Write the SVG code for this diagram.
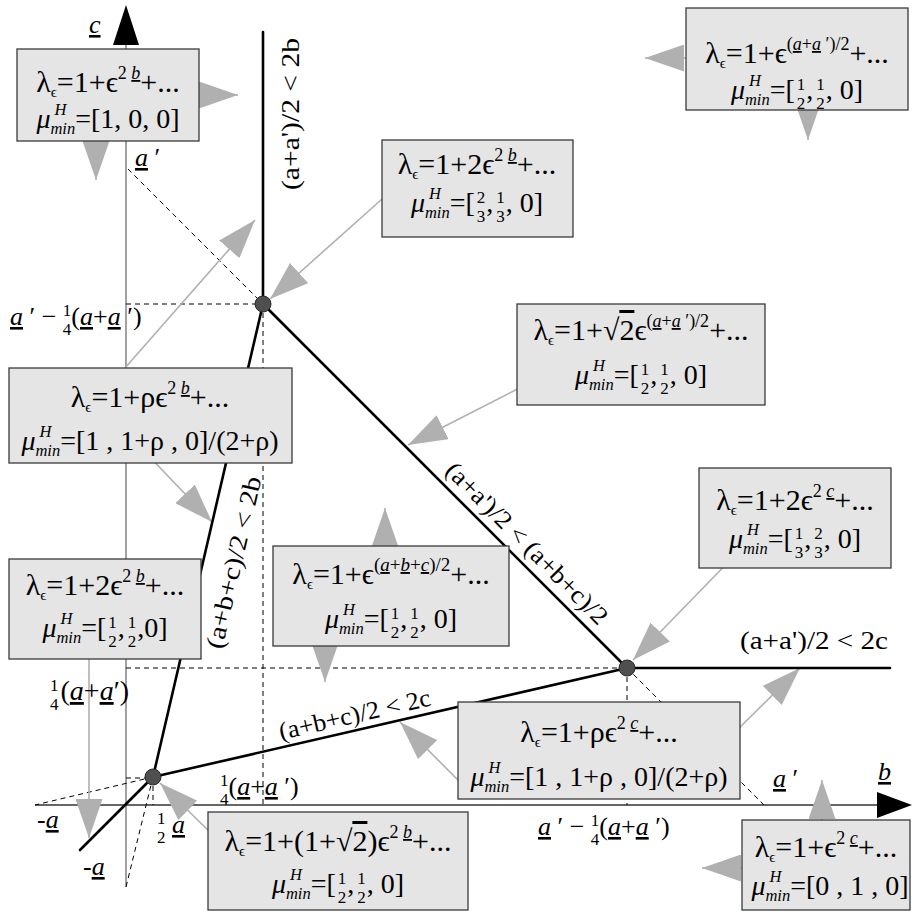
<svg xmlns="http://www.w3.org/2000/svg" width="914" height="912" viewBox="0 0 914 912">
<style>
.bx{fill:#e5e5e5;stroke:#3a3a3a;stroke-width:1.3}
.t{font-family:"Liberation Serif","Times New Roman",serif;fill:#000}
.l1{font-size:30px}
.l2{font-size:28px}
.i{font-style:italic}
.u{text-decoration:underline}
.s{font-size:18px}
.h{font-size:16.5px;font-style:italic}
.ss{font-size:15px}
.fr{font-size:17px}
.lab{font-size:26px}
.edge{font-size:25px}
.thick{stroke:#000;stroke-width:2.6;fill:none;stroke-linecap:round}
.dash{stroke:#000;stroke-width:1;stroke-dasharray:5 4;fill:none}
.gl{stroke:#b0b0b0;stroke-width:1.6;fill:none}
.ax{stroke:#7a7a7a;stroke-width:1.4}
.axb{stroke:#333;stroke-width:1.4}
.nd{fill:#4f4f4f;stroke:#2a2a2a;stroke-width:1}
</style>
<defs>
<marker id="gh" markerUnits="userSpaceOnUse" markerWidth="39" markerHeight="27" refX="39" refY="13.5" orient="auto" viewBox="0 0 39 27"><path d="M0,0L39,13.5L0,27Z" fill="#b0b0b0"/></marker>
</defs>
<g id="connectors">
<line class="ax" x1="126" y1="887" x2="126" y2="44"/>
<path d="M113,45L139,45L126,5Z" fill="#000"/>
<line class="axb" x1="35" y1="805" x2="880" y2="805"/>
<path d="M877,792L877,818L912,805Z" fill="#000"/>
<line class="dash" x1="126" y1="304" x2="263" y2="304"/>
<line class="dash" x1="128" y1="169" x2="263" y2="304"/>
<line class="dash" x1="263" y1="304" x2="263" y2="805"/>
<line class="dash" x1="126" y1="668" x2="627" y2="668"/>
<line class="dash" x1="627" y1="668" x2="627" y2="805"/>
<line class="dash" x1="627" y1="668" x2="764" y2="805"/>
<line class="dash" x1="126" y1="778" x2="153" y2="778"/>
<line class="dash" x1="153" y1="777" x2="35" y2="805"/>
<line class="dash" x1="153" y1="777" x2="153" y2="805"/>
<line class="dash" x1="153" y1="777" x2="126" y2="887"/>
<line class="gl" x1="150" y1="95" x2="238" y2="95" marker-end="url(#gh)"/>
<line class="gl" x1="96" y1="110" x2="96" y2="180" marker-end="url(#gh)"/>
<line class="gl" x1="760" y1="58" x2="645" y2="58" marker-end="url(#gh)"/>
<line class="gl" x1="808" y1="60" x2="808" y2="140" marker-end="url(#gh)"/>
<line class="gl" x1="400" y1="183" x2="270" y2="299" marker-end="url(#gh)"/>
<line class="gl" x1="110" y1="385" x2="255" y2="220" marker-end="url(#gh)"/>
<line class="gl" x1="143" y1="450" x2="212" y2="522" marker-end="url(#gh)"/>
<line class="gl" x1="535" y1="380" x2="408" y2="445" marker-end="url(#gh)"/>
<line class="gl" x1="740" y1="550" x2="633" y2="660" marker-end="url(#gh)"/>
<line class="gl" x1="385" y1="600" x2="385" y2="508" marker-end="url(#gh)"/>
<line class="gl" x1="325" y1="600" x2="325" y2="682" marker-end="url(#gh)"/>
<line class="gl" x1="89" y1="640" x2="89" y2="838" marker-end="url(#gh)"/>
<line class="gl" x1="470" y1="792" x2="400" y2="722" marker-end="url(#gh)"/>
<line class="gl" x1="730" y1="737" x2="800" y2="668" marker-end="url(#gh)"/>
<line class="gl" x1="220" y1="842" x2="160" y2="783" marker-end="url(#gh)"/>
<line class="gl" x1="822" y1="870" x2="822" y2="780" marker-end="url(#gh)"/>
<line class="gl" x1="800" y1="868" x2="702" y2="868" marker-end="url(#gh)"/>
<line class="thick" x1="263" y1="32" x2="263" y2="304"/>
<line class="thick" x1="263" y1="304" x2="627" y2="668"/>
<line class="thick" x1="627" y1="668" x2="890" y2="668"/>
<line class="thick" x1="263" y1="304" x2="153" y2="777"/>
<line class="thick" x1="153" y1="777" x2="627" y2="668"/>
<line class="thick" x1="153" y1="777" x2="80" y2="850"/>
<text class="t edge" transform="translate(299,190) rotate(-90)" textLength="152" lengthAdjust="spacingAndGlyphs">(a+a')/2 &lt; 2b</text>
<text class="t edge" transform="translate(444,472) rotate(45)" textLength="218" lengthAdjust="spacingAndGlyphs">(a+a')/2 &lt; (a+b+c)/2</text>
<text class="t edge" transform="translate(222,650) rotate(-77)" textLength="176" lengthAdjust="spacingAndGlyphs">(a+b+c)/2 &lt; 2b</text>
<text class="t edge" transform="translate(281,740) rotate(-13)" textLength="155" lengthAdjust="spacingAndGlyphs">(a+b+c)/2 &lt; 2c</text>
<text class="t edge" x="740" y="649" textLength="148" lengthAdjust="spacingAndGlyphs">(a+a')/2 &lt; 2c</text>
</g>
<g id="points">
<circle class="nd" cx="263" cy="304" r="8"/>
<circle class="nd" cx="627" cy="668" r="8"/>
<circle class="nd" cx="153" cy="777" r="8"/>
</g>
<g id="axis-labels">
<text class="t lab" x="89" y="33"><tspan class="i u">c</tspan></text>
<text class="t lab" x="878" y="780"><tspan class="i u">b</tspan></text>
<text class="t lab" x="135" y="166"><tspan class="i u">a</tspan> ′</text>
<text class="t lab" x="10" y="325"><tspan class="i u">a</tspan> ′ − <tspan class="fr" dy="-9.5">1</tspan><tspan class="fr" dx="-8.5" dy="19">4</tspan><tspan dy="-9.5">(</tspan><tspan class="i u">a</tspan>+<tspan class="i u">a</tspan> ′)</text>
<text class="t lab" x="50" y="700" style="font-size:28px"><tspan class="fr" dy="-9.5">1</tspan><tspan class="fr" dx="-8.5" dy="19">4</tspan><tspan dy="-9.5" dx="2">(</tspan><tspan class="i u">a</tspan>+<tspan class="i u">a</tspan>′)</text>
<text class="t lab" x="37" y="828">-<tspan class="i u">a</tspan></text>
<text class="t lab" x="83" y="875">-<tspan class="i u">a</tspan></text>
<text class="t lab" x="157" y="833"><tspan class="fr" dy="-9.5">1</tspan><tspan class="fr" dx="-8.5" dy="19">2</tspan><tspan dy="-9.5"> </tspan><tspan class="i u">a</tspan></text>
<text class="t lab" x="220" y="795"><tspan class="fr" dy="-9.5">1</tspan><tspan class="fr" dx="-8.5" dy="19">4</tspan><tspan dy="-9.5">(</tspan><tspan class="i u">a</tspan>+<tspan class="i u">a</tspan> ′)</text>
<text class="t lab" x="538" y="835"><tspan class="i u">a</tspan> ′ − <tspan class="fr" dy="-9.5">1</tspan><tspan class="fr" dx="-8.5" dy="19">4</tspan><tspan dy="-9.5">(</tspan><tspan class="i u">a</tspan>+<tspan class="i u">a</tspan> ′)</text>
<text class="t lab" x="773" y="787"><tspan class="i u">a</tspan> ′</text>
</g>
<g id="boxA">
<rect class="bx" x="17" y="49" width="182" height="92"/>
<text class="t l1" x="108" y="92" text-anchor="middle">λ<tspan class="ss" dy="5">ϵ</tspan><tspan dy="-5">=1+ϵ</tspan><tspan class="s" dy="-13">2 <tspan class="i u">b</tspan></tspan><tspan dy="13">+...</tspan></text>
<text class="t l2" x="108" y="128" text-anchor="middle"><tspan class="i">μ</tspan><tspan class="h" dx="4" dy="-13">H</tspan><tspan class="h" dx="-16" dy="18.5">min</tspan><tspan dy="-5.5">=[1, 0, 0]</tspan></text>
</g>
<g id="boxB">
<rect class="bx" x="686" y="8" width="222" height="102"/>
<text class="t l1" x="797" y="63" text-anchor="middle">λ<tspan class="ss" dy="5">ϵ</tspan><tspan dy="-5">=1+ϵ</tspan><tspan class="s" dy="-13">(<tspan class="i u">a</tspan>+<tspan class="i u">a</tspan> ′)/2</tspan><tspan dy="13">+...</tspan></text>
<text class="t l2" x="797" y="99" text-anchor="middle"><tspan class="i">μ</tspan><tspan class="h" dx="4" dy="-13">H</tspan><tspan class="h" dx="-16" dy="18.5">min</tspan><tspan dy="-5.5">=[</tspan><tspan class="fr" dx="2" dy="-9.5">1</tspan><tspan class="fr" dx="-8.5" dy="19">2</tspan><tspan dy="-9.5" dx="1">,</tspan><tspan class="fr" dx="3" dy="-9.5">1</tspan><tspan class="fr" dx="-8.5" dy="19">2</tspan><tspan dy="-9.5" dx="1">, 0]</tspan></text>
</g>
<g id="boxC">
<rect class="bx" x="382" y="140" width="191" height="97"/>
<text class="t l1" x="477" y="174" text-anchor="middle">λ<tspan class="ss" dy="5">ϵ</tspan><tspan dy="-5">=1+2ϵ</tspan><tspan class="s" dy="-13">2 <tspan class="i u">b</tspan></tspan><tspan dy="13">+...</tspan></text>
<text class="t l2" x="477" y="212" text-anchor="middle"><tspan class="i">μ</tspan><tspan class="h" dx="4" dy="-13">H</tspan><tspan class="h" dx="-16" dy="18.5">min</tspan><tspan dy="-5.5">=[</tspan><tspan class="fr" dx="2" dy="-9.5">2</tspan><tspan class="fr" dx="-8.5" dy="19">3</tspan><tspan dy="-9.5" dx="1">,</tspan><tspan class="fr" dx="3" dy="-9.5">1</tspan><tspan class="fr" dx="-8.5" dy="19">3</tspan><tspan dy="-9.5" dx="1">, 0]</tspan></text>
</g>
<g id="boxD">
<rect class="bx" x="9" y="368" width="283" height="95"/>
<text class="t l1" x="150" y="407" text-anchor="middle">λ<tspan class="ss" dy="5">ϵ</tspan><tspan dy="-5">=1+ρϵ</tspan><tspan class="s" dy="-13">2 <tspan class="i u">b</tspan></tspan><tspan dy="13">+...</tspan></text>
<text class="t l2" x="150" y="450" text-anchor="middle"><tspan class="i">μ</tspan><tspan class="h" dx="4" dy="-13">H</tspan><tspan class="h" dx="-16" dy="18.5">min</tspan><tspan dy="-5.5">=[1 , 1+ρ , 0]/(2+ρ)</tspan></text>
</g>
<g id="boxE">
<rect class="bx" x="517" y="304" width="248" height="101"/>
<text class="t l1" x="641" y="340" text-anchor="middle">λ<tspan class="ss" dy="5">ϵ</tspan><tspan dy="-5">=1+√</tspan><tspan style="text-decoration:overline">2</tspan>ϵ<tspan class="s" dy="-13">(<tspan class="i u">a</tspan>+<tspan class="i u">a</tspan> ′)/2</tspan><tspan dy="13">+...</tspan></text>
<text class="t l2" x="641" y="384" text-anchor="middle"><tspan class="i">μ</tspan><tspan class="h" dx="4" dy="-13">H</tspan><tspan class="h" dx="-16" dy="18.5">min</tspan><tspan dy="-5.5">=[</tspan><tspan class="fr" dx="2" dy="-9.5">1</tspan><tspan class="fr" dx="-8.5" dy="19">2</tspan><tspan dy="-9.5" dx="1">,</tspan><tspan class="fr" dx="3" dy="-9.5">1</tspan><tspan class="fr" dx="-8.5" dy="19">2</tspan><tspan dy="-9.5" dx="1">, 0]</tspan></text>
</g>
<g id="boxF">
<rect class="bx" x="699" y="468" width="192" height="100"/>
<text class="t l1" x="795" y="510" text-anchor="middle">λ<tspan class="ss" dy="5">ϵ</tspan><tspan dy="-5">=1+2ϵ</tspan><tspan class="s" dy="-13">2 <tspan class="i u">c</tspan></tspan><tspan dy="13">+...</tspan></text>
<text class="t l2" x="795" y="548" text-anchor="middle"><tspan class="i">μ</tspan><tspan class="h" dx="4" dy="-13">H</tspan><tspan class="h" dx="-16" dy="18.5">min</tspan><tspan dy="-5.5">=[</tspan><tspan class="fr" dx="2" dy="-9.5">1</tspan><tspan class="fr" dx="-8.5" dy="19">3</tspan><tspan dy="-9.5" dx="1">,</tspan><tspan class="fr" dx="3" dy="-9.5">2</tspan><tspan class="fr" dx="-8.5" dy="19">3</tspan><tspan dy="-9.5" dx="1">, 0]</tspan></text>
</g>
<g id="boxG">
<rect class="bx" x="273" y="546" width="236" height="100"/>
<text class="t l1" x="391" y="584" text-anchor="middle">λ<tspan class="ss" dy="5">ϵ</tspan><tspan dy="-5">=1+ϵ</tspan><tspan class="s" dy="-13" style="font-size:19px">(<tspan class="i u">a</tspan>+<tspan class="i u">b</tspan>+<tspan class="i u">c</tspan>)/2</tspan><tspan dy="13">+...</tspan></text>
<text class="t l2" x="391" y="628" text-anchor="middle"><tspan class="i">μ</tspan><tspan class="h" dx="4" dy="-13">H</tspan><tspan class="h" dx="-16" dy="18.5">min</tspan><tspan dy="-5.5">=[</tspan><tspan class="fr" dx="2" dy="-9.5">1</tspan><tspan class="fr" dx="-8.5" dy="19">2</tspan><tspan dy="-9.5" dx="1">,</tspan><tspan class="fr" dx="3" dy="-9.5">1</tspan><tspan class="fr" dx="-8.5" dy="19">2</tspan><tspan dy="-9.5" dx="1">, 0]</tspan></text>
</g>
<g id="boxH">
<rect class="bx" x="9" y="559" width="192" height="100"/>
<text class="t l1" x="105" y="595" text-anchor="middle">λ<tspan class="ss" dy="5">ϵ</tspan><tspan dy="-5">=1+2ϵ</tspan><tspan class="s" dy="-13">2 <tspan class="i u">b</tspan></tspan><tspan dy="13">+...</tspan></text>
<text class="t l2" x="105" y="637" text-anchor="middle"><tspan class="i">μ</tspan><tspan class="h" dx="4" dy="-13">H</tspan><tspan class="h" dx="-16" dy="18.5">min</tspan><tspan dy="-5.5">=[</tspan><tspan class="fr" dx="2" dy="-9.5">1</tspan><tspan class="fr" dx="-8.5" dy="19">2</tspan><tspan dy="-9.5" dx="1">,</tspan><tspan class="fr" dx="3" dy="-9.5">1</tspan><tspan class="fr" dx="-8.5" dy="19">2</tspan><tspan dy="-9.5" dx="1">,0]</tspan></text>
</g>
<g id="boxI">
<rect class="bx" x="458" y="702" width="282" height="97"/>
<text class="t l1" x="599" y="742" text-anchor="middle">λ<tspan class="ss" dy="5">ϵ</tspan><tspan dy="-5">=1+ρϵ</tspan><tspan class="s" dy="-13">2 <tspan class="i u">c</tspan></tspan><tspan dy="13">+...</tspan></text>
<text class="t l2" x="599" y="786" text-anchor="middle"><tspan class="i">μ</tspan><tspan class="h" dx="4" dy="-13">H</tspan><tspan class="h" dx="-16" dy="18.5">min</tspan><tspan dy="-5.5">=[1 , 1+ρ , 0]/(2+ρ)</tspan></text>
</g>
<g id="boxJ">
<rect class="bx" x="208" y="812" width="260" height="98"/>
<text class="t l1" x="338" y="851" text-anchor="middle">λ<tspan class="ss" dy="5">ϵ</tspan><tspan dy="-5">=1+(1+√</tspan><tspan style="text-decoration:overline">2</tspan>)ϵ<tspan class="s" dy="-13">2 <tspan class="i u">b</tspan></tspan><tspan dy="13">+...</tspan></text>
<text class="t l2" x="338" y="893" text-anchor="middle"><tspan class="i">μ</tspan><tspan class="h" dx="4" dy="-13">H</tspan><tspan class="h" dx="-16" dy="18.5">min</tspan><tspan dy="-5.5">=[</tspan><tspan class="fr" dx="2" dy="-9.5">1</tspan><tspan class="fr" dx="-8.5" dy="19">2</tspan><tspan dy="-9.5" dx="1">,</tspan><tspan class="fr" dx="3" dy="-9.5">1</tspan><tspan class="fr" dx="-8.5" dy="19">2</tspan><tspan dy="-9.5" dx="1">, 0]</tspan></text>
</g>
<g id="boxK">
<rect class="bx" x="742" y="820" width="168" height="90"/>
<text class="t l1" x="826" y="857" text-anchor="middle">λ<tspan class="ss" dy="5">ϵ</tspan><tspan dy="-5">=1+ϵ</tspan><tspan class="s" dy="-13">2 <tspan class="i u">c</tspan></tspan><tspan dy="13">+...</tspan></text>
<text class="t l2" x="830" y="895" text-anchor="middle"><tspan class="i">μ</tspan><tspan class="h" dx="4" dy="-13">H</tspan><tspan class="h" dx="-16" dy="18.5">min</tspan><tspan dy="-5.5">=[0 , 1 , 0]</tspan></text>
</g>
</svg>
